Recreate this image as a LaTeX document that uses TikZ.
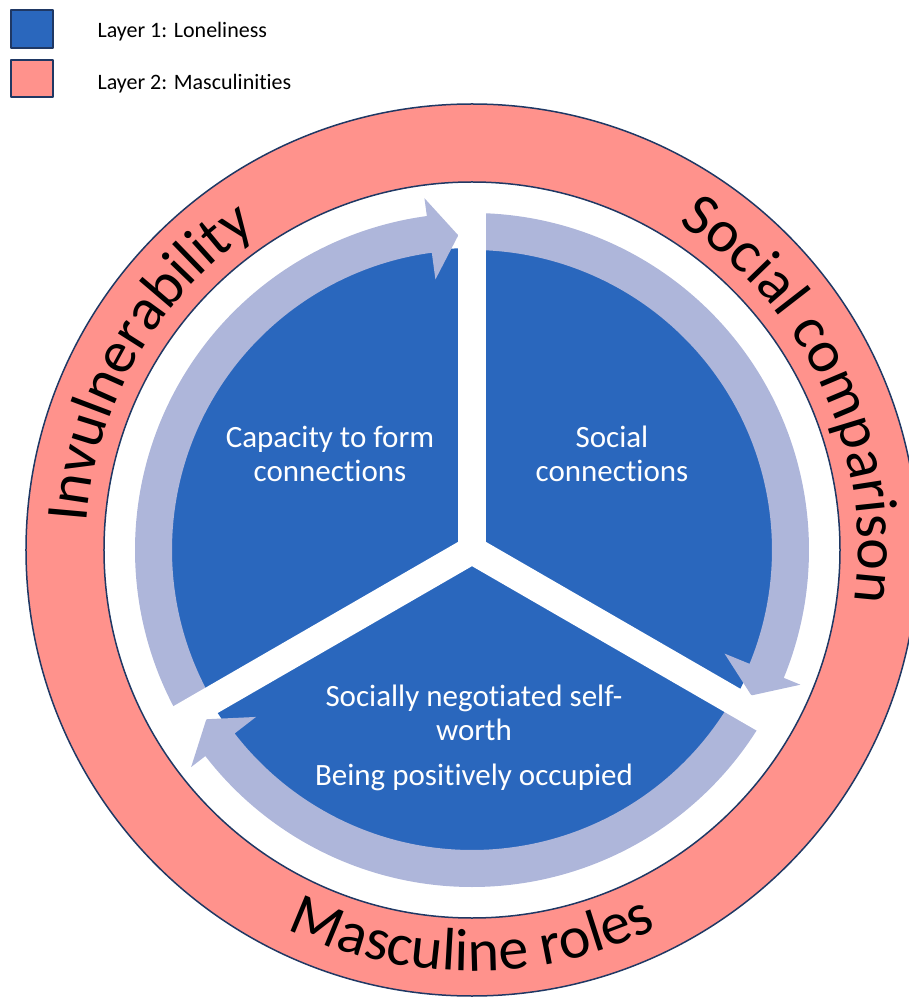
\documentclass[tikz,border=0pt]{standalone}
\usepackage{fontspec}
\setmainfont{Carlito}[Ligatures = NoCommon]
\usetikzlibrary{decorations.text}

\definecolor{loneblue}{HTML}{2A67BD}
\definecolor{bandblue}{HTML}{AEB6DA}
\definecolor{mascpink}{HTML}{FF928C}
\definecolor{rimnavy}{HTML}{1F3864}

\newcommand{\ringfont}{\fontsize{60}{72}\selectfont}

\begin{document}
\begin{tikzpicture}[x = 1pt, y = 1pt, line join = round,
  legendbox/.style = {draw = rimnavy, line width = 2},
  legendtext/.style = {anchor = base west, font = \fontsize{22}{26}\selectfont},
  sectortext/.style = {text = white, align = center, anchor = base,
    font = \fontsize{31}{34}\selectfont},
  ringlabel/.style = {decorate, decoration = {text along path, text align = center}}]
  \useasboundingbox (-472, -448) rectangle (436, 550);

  % legend
  \filldraw[legendbox, fill = loneblue] (-461, 502) rectangle (-419, 540);
  \filldraw[legendbox, fill = mascpink] (-461, 453) rectangle (-419, 490);
  \node[legendtext] (layer1) at (-378, 512) {Layer 1: Loneliness};
  \node[legendtext] (layer2) at (-378, 460) {Layer 2: Masculinities};

  % inner disc with the three arrows
  \fill[loneblue] (0, 0) circle[radius = 302];
  \foreach \s in {210, 90, -30} {
    \fill[bandblue] (\s:337) arc[start angle = \s, end angle = \s - 112.3, radius = 337]
      -- (\s - 112.3:355) -- (\s - 117.5:315) -- (\s - 112.3:273)
      -- (\s - 112.3:300) arc[start angle = \s - 112.3, end angle = \s, radius = 300]
      -- cycle;
  }
  \foreach \a in {90, 210, 330}
    \draw[white, line width = 28] (0, 0) -- (\a:362);

  % outer ring
  \filldraw[fill = mascpink, draw = rimnavy, line width = 1.5, even odd rule]
    (0, 0) circle[radius = 446] (0, 0) circle[radius = 368];

  \path[ringlabel, decoration = {text = {|\ringfont|Invulnerability}}]
    (195:386) arc[start angle = 195, end angle = 105, radius = 386];
  \path[ringlabel, decoration = {text = {|\ringfont|Social comparison}}]
    (70:386) arc[start angle = 70, end angle = -20, radius = 386];
  \path[ringlabel, decoration = {text = {|\ringfont|Masculine roles}}]
    (225:421) arc[start angle = 225, end angle = 315, radius = 421];

  % sector texts (base = last line)
  \node[sectortext] (capacity) at (-142, 68) {Capacity to form\\connections};
  \node[sectortext] (social) at (140, 68) {Social\\connections};
  \node[sectortext] (selfworth) at (2, -190) {Socially negotiated self-\\worth};
  \node[sectortext] (occupied) at (2, -235) {Being positively occupied};
\end{tikzpicture}
\end{document}
